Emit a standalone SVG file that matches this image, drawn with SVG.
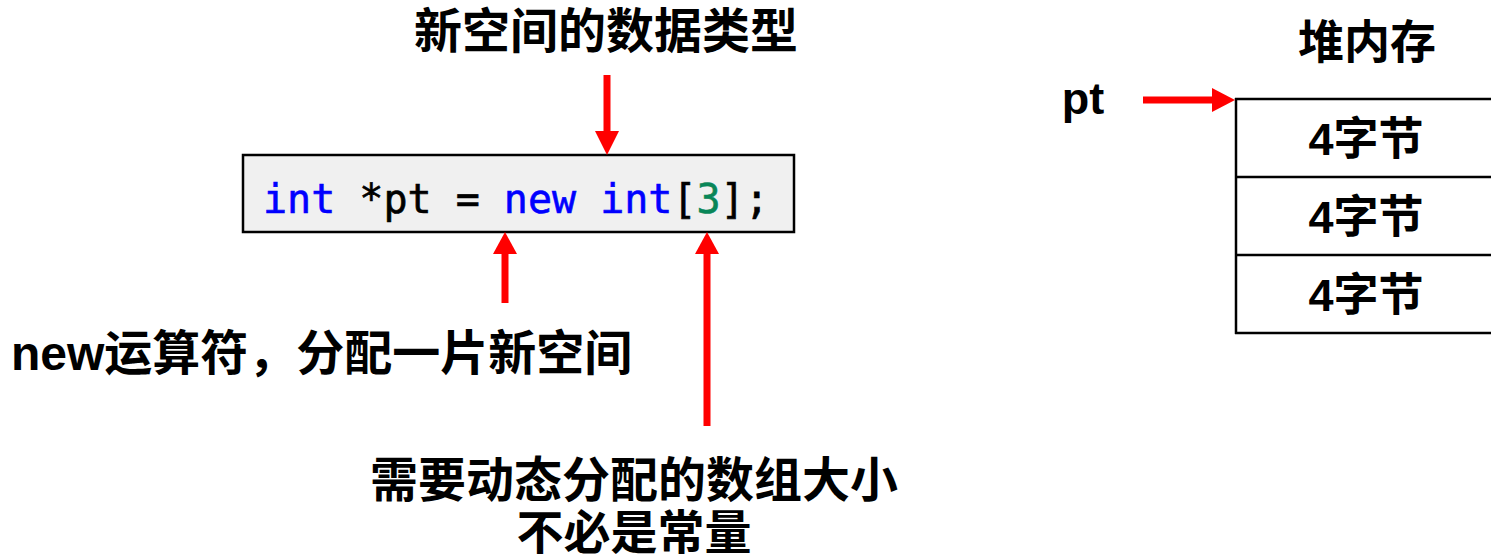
<svg xmlns="http://www.w3.org/2000/svg" width="1491" height="558" viewBox="0 0 1491 558">
<style>
.lbl{font-family:"Liberation Sans","Noto Sans CJK SC",sans-serif;font-weight:bold;fill:#000;text-anchor:middle}
.code{font-family:"DejaVu Sans Mono","Liberation Mono",monospace;font-size:40px;fill:#000;stroke:#000;stroke-width:0.6}
.kw{fill:#0000ff;stroke:#0000ff}.num{fill:#098658;stroke:#098658}
.cell{fill:none;stroke:#000;stroke-width:2.5}
.arr{stroke:#ff0000;stroke-width:7;fill:none}
.head{fill:#ff0000}
</style>
<rect width="1491" height="558" fill="#fff"/>
<g id="code">
<rect x="243" y="155" width="551" height="77" fill="#f0f0f0" stroke="#000" stroke-width="2.5"/>
<text class="code" x="263" y="213"><tspan class="kw">int</tspan> *pt = <tspan class="kw">new</tspan> <tspan class="kw">int</tspan>[<tspan class="num">3</tspan>];</text>
</g>
<g id="label-type"><text class="lbl" x="606" y="48" font-size="48">新空间的数据类型</text></g>
<g id="label-new"><text x="11" y="370" font-size="48" class="lbl" style="text-anchor:start">new运算符，分配一片新空间</text></g>
<g id="label-size">
<text class="lbl" x="634" y="497" font-size="48">需要动态分配的数组大小</text>
<text class="lbl" x="634" y="549" font-size="47">不必是常量</text>
</g>
<g id="heap-title"><text class="lbl" x="1367" y="58" font-size="46">堆内存</text></g>
<g id="pt-label"><text class="lbl" x="1083" y="114" font-size="45">pt</text></g>
<g id="heap">
<line class="cell" x1="1235" y1="99" x2="1491" y2="99"/>
<line class="cell" x1="1235" y1="177" x2="1491" y2="177"/>
<line class="cell" x1="1235" y1="255" x2="1491" y2="255"/>
<line class="cell" x1="1235" y1="333" x2="1491" y2="333"/>
<line class="cell" x1="1236" y1="98" x2="1236" y2="334"/>
<text class="lbl" x="1366" y="155" font-size="45">4字节</text>
<text class="lbl" x="1366" y="233" font-size="45">4字节</text>
<text class="lbl" x="1366" y="311" font-size="45">4字节</text>
</g>
<g id="connectors">
<line class="arr" x1="607" y1="75" x2="607" y2="133"/>
<polygon class="head" points="595,131 619,131 607,155"/>
<line class="arr" x1="505" y1="303" x2="505" y2="252"/>
<polygon class="head" points="493,254 517,254 505,232"/>
<line class="arr" x1="707" y1="426" x2="707" y2="252"/>
<polygon class="head" points="695,254 719,254 707,232"/>
<line class="arr" x1="1143" y1="100" x2="1214" y2="100"/>
<polygon class="head" points="1212,88 1212,112 1235,100"/>
</g>
</svg>
